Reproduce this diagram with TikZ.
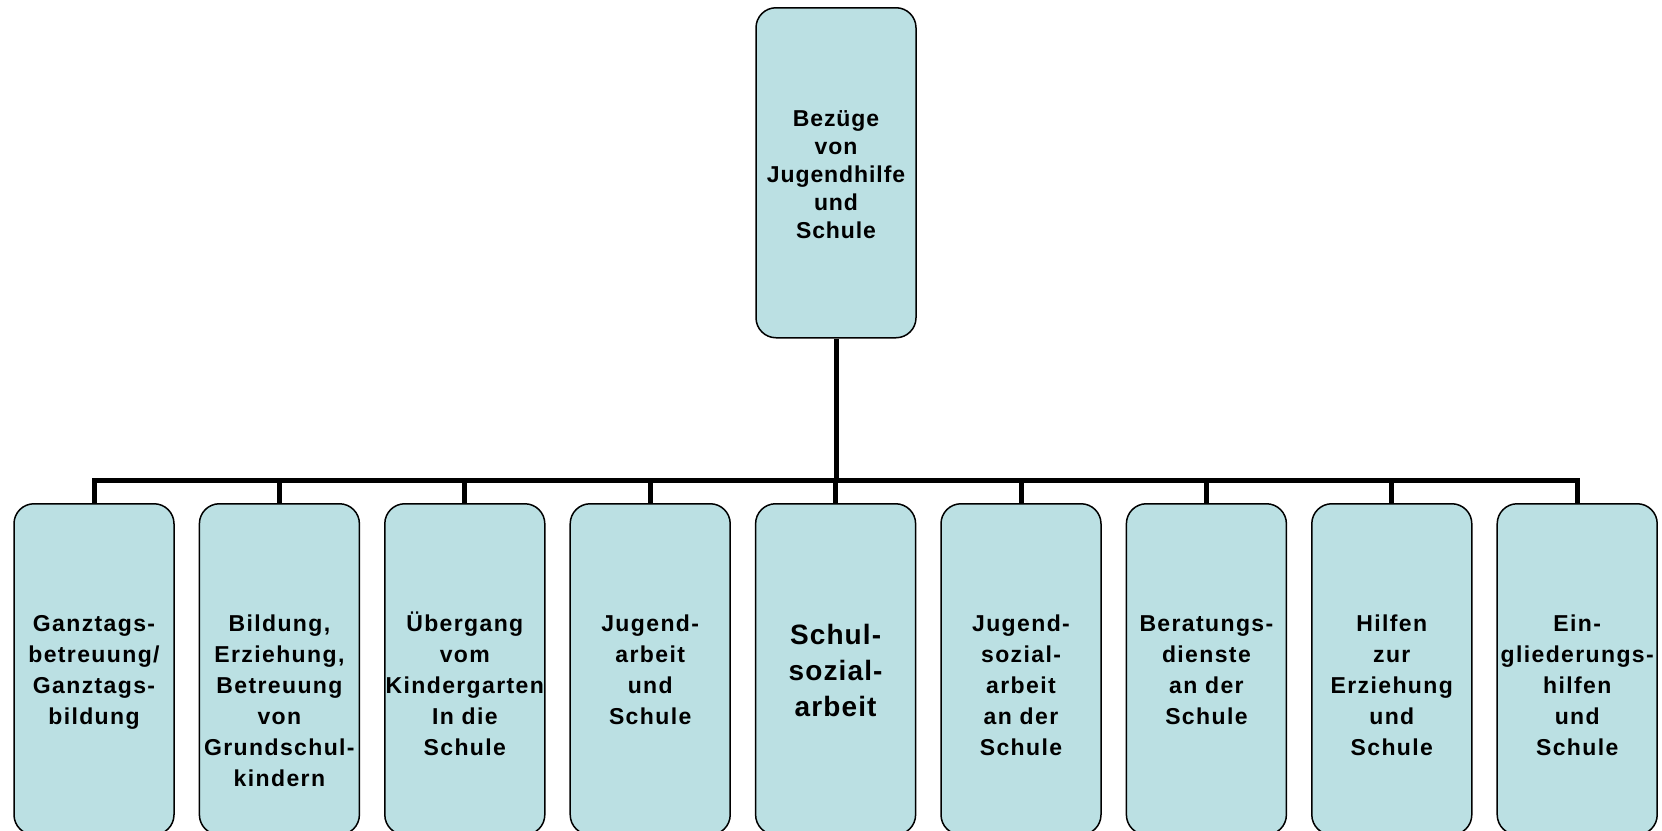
\documentclass[tikz,border=0pt]{standalone}
\usepackage{fontspec}
\setmainfont{Liberation Sans}
\newfontfamily\boxfont[LetterSpace=6]{Liberation Sans}
\newfontfamily\topboxfont[LetterSpace=4]{Liberation Sans}
\newfontfamily\bigboxfont[LetterSpace=4]{Liberation Sans}
\definecolor{boxfill}{RGB}{187,224,227}
\begin{document}
\begin{tikzpicture}[x=1pt,y=-1pt,
  box/.style={draw=black, line width=1.5pt, fill=boxfill, rounded corners=20pt,
    minimum width=160pt, minimum height=331pt, inner sep=0pt, anchor=north},
  % labels are placed by the baseline of their last line
  lbl/.style={font=\boxfont\bfseries\fontsize{23}{31}\selectfont, align=center,
    inner sep=0pt, anchor=base},
  toplbl/.style={lbl, font=\topboxfont\bfseries\fontsize{23}{28}\selectfont},
  biglbl/.style={lbl, font=\bigboxfont\bfseries\fontsize{28}{36}\selectfont},
  conn/.style={draw=black, line width=5pt, line join=miter}]
\useasboundingbox (0,0) rectangle (1662,830);
\clip (0,0) rectangle (1662,830);

% top level
\node[box, minimum height=330pt] (root) at (836,7) {};
\node[toplbl] (rootlbl) at (836,238) {Bezüge\\von\\Jugendhilfe\\und\\Schule};

% second level boxes
\node[box] (b1) at (94.0,503) {};
\node[box] (b2) at (279.4,503) {};
\node[box] (b3) at (464.8,503) {};
\node[box] (b4) at (650.2,503) {};
\node[box] (b5) at (835.6,503) {};
\node[box] (b6) at (1021.0,503) {};
\node[box] (b7) at (1206.4,503) {};
\node[box] (b8) at (1391.8,503) {};
\node[box] (b9) at (1577.2,503) {};

% labels of the second level
\node[lbl] (t1) at (94.0,724) {Ganztags-\\betreuung/\\Ganztags-\\bildung};
\node[lbl] (t2) at (279.4,786) {Bildung,\\Erziehung,\\Betreuung\\von\\Grundschul-\\kindern};
\node[lbl] (t3) at (464.8,755) {Übergang\\vom\\Kindergarten\\In die\\Schule};
\node[lbl] (t4) at (650.2,724) {Jugend-\\arbeit\\und\\Schule};
\node[biglbl] (t5) at (835.6,716) {Schul-\\sozial-\\arbeit};
\node[lbl] (t6) at (1021.0,755) {Jugend-\\sozial-\\arbeit\\an der\\Schule};
\node[lbl] (t7) at (1206.4,724) {Beratungs-\\dienste\\an der\\Schule};
\node[lbl] (t8) at (1391.8,755) {Hilfen\\zur\\Erziehung\\und\hspace{18pt}\\Schule};
\node[lbl] (t9) at (1577.2,755) {Ein-\\gliederungs-\\hilfen\\und\\Schule};

% connectors
\coordinate (bus) at (836,480);
\draw[conn] (root.south) -- (bus);
\draw[conn] (b1.north) |- (bus) -| (b9.north);
\foreach \i in {2,...,8} {
  \draw[conn] (b\i.north) -- (b\i.north |- bus);
}
\end{tikzpicture}
\end{document}
